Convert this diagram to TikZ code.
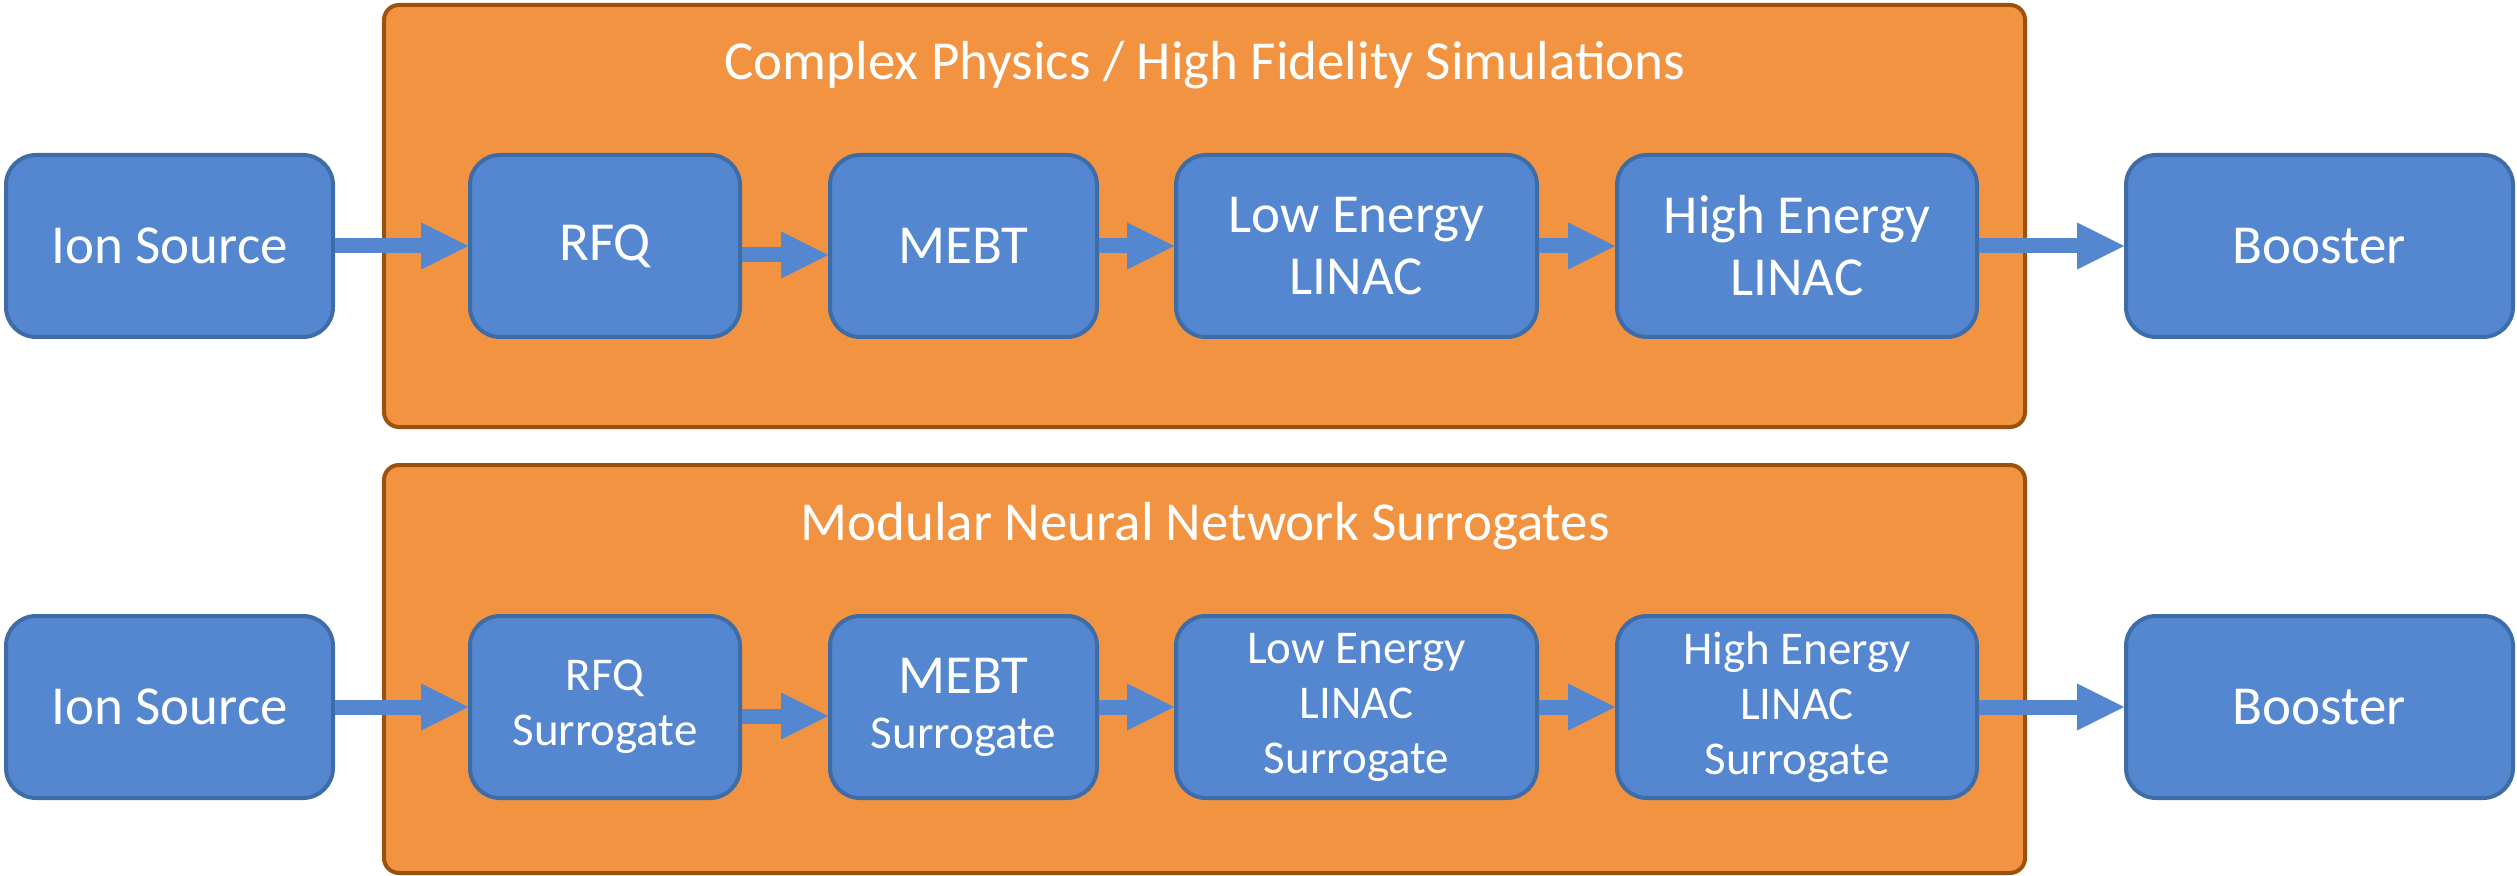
\documentclass[tikz,border=0pt]{standalone}
\usepackage{fontspec}
\setmainfont{Carlito}
\usetikzlibrary{fit,arrows.meta}

\definecolor{boxblue}{RGB}{84,135,207}
\definecolor{boxedge}{RGB}{62,108,166}
\definecolor{panelorange}{RGB}{241,147,65}
\definecolor{paneledge}{RGB}{156,82,14}

\tikzset{
  panel/.style={inner sep=0pt, fill=panelorange, draw=paneledge, line width=1.2pt, rounded corners=4.5pt},
  stage/.style={inner sep=0pt, minimum height=54.6pt, fill=boxblue, draw=boxedge, line width=1.2pt,
    rounded corners=9pt, text=white, align=center, font=\fontsize{16.5}{18.6}\selectfont},
  surrogate/.style={font=\fontsize{14.1}{16.5}\selectfont},
  paneltitle/.style={text=white, anchor=base, font=\fontsize{16.5}{19.8}\selectfont},
  flow/.style={draw=boxblue, line width=4.5pt, -{Triangle[length=14.1pt,width=14.1pt,line width=0pt]}},
}

\begin{document}
\begin{tikzpicture}[x=0.3pt,y=-0.3pt]
\useasboundingbox (0,0) rectangle (2517,876);

% background panels
\node[panel, fit={(384,5)(2025,427)}] (hifi) {};
\node[panel, fit={(384,465)(2025,873)}] (nn) {};
\node[paneltitle] (hifititle) at (1205,80) {Complex Physics / High Fidelity Simulations};
\node[paneltitle] (nntitle) at (1205,541) {Modular Neural Network Surrogates};

% top chain: physics simulations
\node[stage, minimum width=98.1pt] (ion1) at (169.5,246) {Ion Source};
\node[stage, minimum width=81pt] (rfq1) at (605,246) {RFQ};
\node[stage, minimum width=80.1pt] (mebt1) at (963.5,246) {MEBT};
\node[stage, minimum width=108.3pt] (low1) at (1356.5,246) {Low Energy\\LINAC};
\node[stage, minimum width=108pt] (high1) at (1797,246) {High Energy\\LINAC};
\node[stage, minimum width=116.1pt] (boost1) at (2319.5,246) {Booster};

% bottom chain: surrogate models
\node[stage, minimum width=98.1pt] (ion2) at (169.5,707) {Ion Source};
\node[stage, surrogate, minimum width=81pt] (rfq2) at (605,707) {RFQ\\Surrogate};
\node[stage, surrogate, minimum width=80.1pt] (mebt2) at (963.5,707) {{\fontsize{16.5}{18.6}\selectfont MEBT}\\Surrogate};
\node[stage, surrogate, minimum width=108.3pt] (low2) at (1356.5,707) {Low Energy\\LINAC\\Surrogate};
\node[stage, surrogate, minimum width=108pt] (high2) at (1797,707) {High Energy\\LINAC\\Surrogate};
\node[stage, minimum width=116.1pt] (boost2) at (2319.5,707) {Booster};

% connectors
\draw[flow] (ion1.east) -- (rfq1.west);
\draw[flow] ([yshift=-2.7pt]rfq1.east) -- ([yshift=-2.7pt]mebt1.west);
\draw[flow] (mebt1.east) -- (low1.west);
\draw[flow] (low1.east) -- (high1.west);
\draw[flow] (high1.east) -- (boost1.west);

\draw[flow] (ion2.east) -- (rfq2.west);
\draw[flow] ([yshift=-2.7pt]rfq2.east) -- ([yshift=-2.7pt]mebt2.west);
\draw[flow] (mebt2.east) -- (low2.west);
\draw[flow] (low2.east) -- (high2.west);
\draw[flow] (high2.east) -- (boost2.west);
\end{tikzpicture}
\end{document}
